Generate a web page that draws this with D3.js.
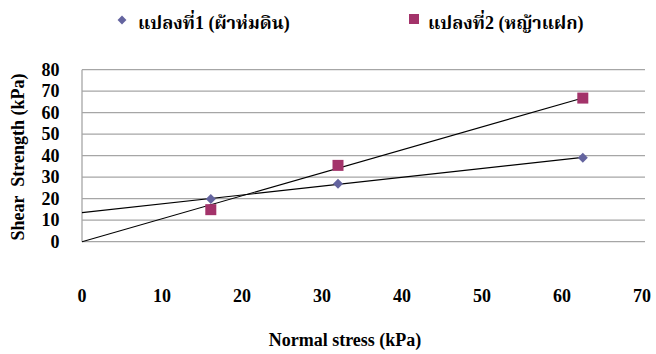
<!DOCTYPE html>
<html>
<head>
<meta charset="utf-8">
<script src="https://cdn.jsdelivr.net/npm/d3@7"></script>
<style>
  html, body { margin: 0; padding: 0; background: #fff; }
</style>
</head>
<body>
<svg id="chart" width="656" height="354"></svg>
<script>
// Normal stress (kPa) at each test
const normalStress = [16.1, 32.0, 62.6];
// Shear strength (kPa) for each plot
const plot1Strength = [19.9, 27.0, 39.1];
const plot2Strength = [14.9, 35.5, 66.8];
const seriesNames = ["แปลงที่1 (ผ้าห่มดิน)", "แปลงที่2 (หญ้าแฝก)"];
const seriesColors = ["#64649f", "#a3336a"];
const xTicks = [0, 10, 20, 30, 40, 50, 60, 70];
const yTicks = [0, 10, 20, 30, 40, 50, 60, 70, 80];

const FONT = "'Liberation Serif', 'Noto Serif Thai', 'Times New Roman', serif";

const svg = d3.select("#chart");
const x = d3.scaleLinear().domain([0, 70]).range([82, 642]);
const y = d3.scaleLinear().domain([0, 80]).range([241.7, 69.7]);

function label(sel, size) {
  return sel.style("font-family", FONT)
    .style("font-weight", "bold")
    .style("font-size", size + "px")
    .attr("fill", "#000");
}

// Least-squares trend line; optionally forced through the origin
function trend(xs, ys, throughOrigin) {
  if (throughOrigin) {
    const sxy = d3.sum(xs, (v, i) => v * ys[i]);
    const sxx = d3.sum(xs, v => v * v);
    return { slope: sxy / sxx, intercept: 0 };
  }
  const mx = d3.mean(xs), my = d3.mean(ys);
  const sxy = d3.sum(xs, (v, i) => (v - mx) * (ys[i] - my));
  const sxx = d3.sum(xs, v => (v - mx) * (v - mx));
  const slope = sxy / sxx;
  return { slope, intercept: my - slope * mx };
}

// Horizontal gridlines
svg.append("g")
  .selectAll("line")
  .data(yTicks)
  .join("line")
  .attr("x1", x(0)).attr("x2", 645)
  .attr("y1", d => y(d)).attr("y2", d => y(d))
  .attr("stroke", "#a6a6a6").attr("stroke-width", 1.3);

// Vertical value axis line
svg.append("line")
  .attr("x1", x(0)).attr("x2", x(0))
  .attr("y1", y(80)).attr("y2", y(0))
  .attr("stroke", "#a6a6a6").attr("stroke-width", 1.3);

// Y tick labels
svg.append("g")
  .selectAll("text")
  .data(yTicks)
  .join("text")
  .attr("x", 59.5).attr("y", d => y(d) + 6)
  .attr("text-anchor", "end")
  .call(label, 18)
  .text(d => d);

// X tick labels (set low, below the plot area)
svg.append("g")
  .selectAll("text")
  .data(xTicks)
  .join("text")
  .attr("x", d => x(d)).attr("y", 302)
  .attr("text-anchor", "middle")
  .call(label, 18)
  .text(d => d);

// Axis titles
svg.append("text")
  .attr("x", 345).attr("y", 346)
  .attr("text-anchor", "middle")
  .call(label, 18)
  .text("Normal stress (kPa)");

svg.append("text")
  .attr("transform", "translate(24,157) rotate(-90)")
  .attr("text-anchor", "middle")
  .call(label, 18)
  .style("white-space", "pre")
  .text("Shear  Strength (kPa)");

// Trend lines from x = 0 to the last measured stress
const fits = [
  trend(normalStress, plot1Strength, false),
  trend(normalStress, plot2Strength, true)
];
const xEnd = d3.max(normalStress);
const lineGen = d3.line().x(d => x(d[0])).y(d => y(d[1]));
svg.append("g")
  .selectAll("path")
  .data(fits)
  .join("path")
  .attr("d", f => lineGen([[0, f.intercept], [xEnd, f.intercept + f.slope * xEnd]]))
  .attr("fill", "none")
  .attr("stroke", "#000")
  .attr("stroke-width", 1.1);

// Markers
const diamond = d3.symbol().type(d3.symbolDiamond2).size(64);
svg.append("g")
  .selectAll("path")
  .data(normalStress.map((v, i) => [v, plot1Strength[i]]))
  .join("path")
  .attr("transform", d => `translate(${x(d[0])},${y(d[1])})`)
  .attr("d", diamond)
  .attr("fill", seriesColors[0]);

svg.append("g")
  .selectAll("rect")
  .data(normalStress.map((v, i) => [v, plot2Strength[i]]))
  .join("rect")
  .attr("x", d => x(d[0]) - 5.5).attr("y", d => y(d[1]) - 5.5)
  .attr("width", 11).attr("height", 11)
  .attr("fill", seriesColors[1]);

// Legend
const legend = svg.append("g");
legend.append("path")
  .attr("transform", "translate(122,20)")
  .attr("d", d3.symbol().type(d3.symbolDiamond2).size(50))
  .attr("fill", seriesColors[0]);
legend.append("text")
  .attr("x", 138).attr("y", 29)
  .call(label, 18)
  .text(seriesNames[0]);
legend.append("rect")
  .attr("x", 409).attr("y", 14).attr("width", 10).attr("height", 10)
  .attr("fill", seriesColors[1]);
legend.append("text")
  .attr("x", 428).attr("y", 29)
  .call(label, 18)
  .text(seriesNames[1]);
</script>
</body>
</html>
